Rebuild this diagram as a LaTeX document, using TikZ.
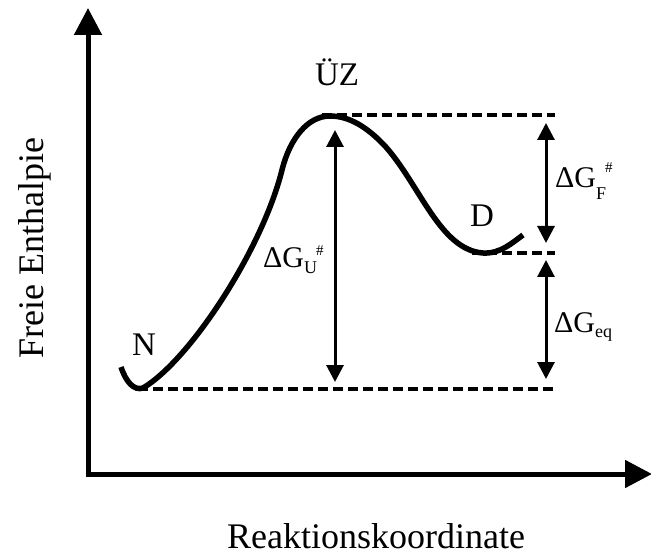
\documentclass[tikz,border=0pt]{standalone}
\usepackage{fontspec}
\setmainfont{Liberation Serif}
\usetikzlibrary{arrows.meta}
\tikzset{
  axis/.style={line width=5pt, -{Triangle[length=27pt,width=27pt]}},
  curveline/.style={line width=5.5pt, line cap=butt},
  dashline/.style={line width=4pt, dash pattern=on 10pt off 5pt},
  dimarrow/.style={line width=3pt, {Triangle[length=17pt,width=17pt]}-{Triangle[length=17pt,width=17pt]}},
  lbl/.style={inner sep=0pt, font=\fontsize{33}{33}\selectfont},
  dlbl/.style={inner sep=0pt, anchor=base west},
}
\newcommand{\dG}[4]{{\fontsize{30}{30}\selectfont ΔG}\raisebox{#2}{\fontsize{18}{18}\selectfont #1}\ifx&#4&\else\hspace{-1pt}\raisebox{#3}{\fontsize{15}{15}\selectfont #4}\fi}
\begin{document}
\begin{tikzpicture}[x=1pt,y=-1pt]
\useasboundingbox (0,0) rectangle (651,556);
% axes
\coordinate (o) at (88,474);
\coordinate (ytip) at (88,8);
\coordinate (xtip) at (652,474);
\draw[axis] ([yshift=2.5pt]o) -- (ytip);
\draw[axis] ([xshift=-2.5pt]o) -- (xtip);
% energy curve
\coordinate (c0) at (121,367);
\coordinate (nmin) at (143,388);
\coordinate (c2) at (282,170);
\coordinate (peak) at (330,116);
\coordinate (c4) at (385,146);
\coordinate (dmin) at (483,253);
\coordinate (c6) at (523,235);
\draw[curveline] (c0) .. controls (126,382) and (134,391) .. (nmin)
  .. controls (190,360) and (262,250) .. (c2)
  .. controls (290,138) and (308,116) .. (peak)
  .. controls (350,116) and (368,128) .. (c4)
  .. controls (420,185) and (440,250) .. (dmin)
  .. controls (500,254) and (512,243) .. (c6);
% dashed levels
\coordinate (ts1) at (322,115); \coordinate (ts2) at (555,115);
\coordinate (d1) at (472,253);  \coordinate (d2) at (555,253);
\coordinate (n1) at (138,389);  \coordinate (n2) at (555,389);
\draw[dashline] (ts1) -- (ts2);
\draw[dashline] (d1) -- (d2);
\draw[dashline] (n1) -- (n2);
% dimension arrows
\coordinate (u1) at (335,130); \coordinate (u2) at (335,382);
\coordinate (f1) at (546,123); \coordinate (f2) at (546,243);
\coordinate (e1) at (546,260); \coordinate (e2) at (546,379);
\draw[dimarrow] (u1) -- (u2);
\draw[dimarrow] (f1) -- (f2);
\draw[dimarrow] (e1) -- (e2);
% labels
\node[lbl, anchor=base] (uz) at (337,86) {ÜZ};
\node[lbl, anchor=base] (dl) at (482,227) {D};
\node[lbl, anchor=base] (nl) at (144,355) {N};
\node[dlbl] (gu) at (263,268) {\dG{U}{-6pt}{12pt}{\#}};
\node[dlbl] (gf) at (555,188) {\dG{F}{-12pt}{15pt}{\#}};
\node[dlbl] (ge) at (554,333) {\dG{eq}{-5pt}{0pt}{}};
\node[inner sep=0pt, anchor=base, rotate=90, font=\fontsize{36}{36}\selectfont] (yl) at (43,248) {Freie Enthalpie};
\node[inner sep=0pt, anchor=base, font=\fontsize{36}{36}\selectfont] (xl) at (376,548) {Reaktionskoordinate};
\end{tikzpicture}
\end{document}
